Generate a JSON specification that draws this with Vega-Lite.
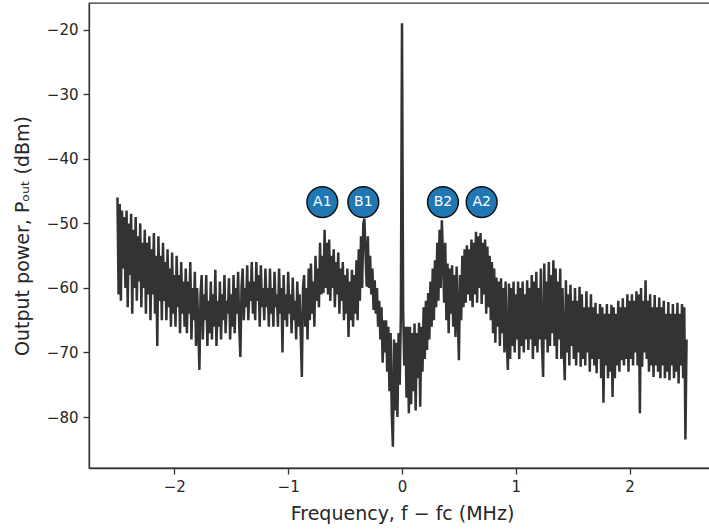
{
  "$schema": "https://vega.github.io/schema/vega-lite/v6.json",
  "autosize": "none",
  "padding": {"left": 89, "top": 3, "right": 0, "bottom": 61},
  "width": 626,
  "height": 465,
  "background": "white",
  "config": {
    "font": "DejaVu Sans",
    "view": {"stroke": "#333333", "strokeWidth": 1.3},
    "axis": {
      "grid": false,
      "domainColor": "#333333",
      "domainWidth": 1.3,
      "tickColor": "#333333",
      "tickWidth": 1.3,
      "tickSize": 6,
      "labelFont": "DejaVu Sans",
      "labelFontSize": 15,
      "labelColor": "#262626",
      "labelPadding": 5,
      "titleFont": "DejaVu Sans",
      "titleFontSize": 19,
      "titleFontWeight": "normal",
      "titleColor": "#262626"
    }
  },
  "datasets": {
    "spectrum": [
{"f":-2.50,"p":-46},{"f":-2.49,"p":-61},{"f":-2.48,"p":-47},{"f":-2.47,"p":-62},{"f":-2.46,"p":-48},{"f":-2.45,"p":-57},{"f":-2.44,"p":-49},{"f":-2.43,"p":-60},{"f":-2.42,"p":-48},{"f":-2.41,"p":-63},
{"f":-2.40,"p":-50},{"f":-2.39,"p":-58},{"f":-2.38,"p":-48.5},{"f":-2.37,"p":-64},{"f":-2.36,"p":-51},{"f":-2.35,"p":-60},{"f":-2.34,"p":-49},{"f":-2.33,"p":-62},{"f":-2.32,"p":-52},{"f":-2.31,"p":-59},
{"f":-2.30,"p":-50},{"f":-2.29,"p":-63},{"f":-2.28,"p":-53},{"f":-2.27,"p":-60},{"f":-2.26,"p":-51},{"f":-2.25,"p":-64},{"f":-2.24,"p":-53},{"f":-2.23,"p":-61},{"f":-2.22,"p":-52},{"f":-2.21,"p":-65},
{"f":-2.20,"p":-54},{"f":-2.19,"p":-61},{"f":-2.18,"p":-51.5},{"f":-2.17,"p":-64},{"f":-2.16,"p":-55},{"f":-2.15,"p":-69},{"f":-2.14,"p":-52},{"f":-2.13,"p":-62},{"f":-2.12,"p":-55},{"f":-2.11,"p":-65},
{"f":-2.10,"p":-53},{"f":-2.09,"p":-62},{"f":-2.08,"p":-56},{"f":-2.07,"p":-65},{"f":-2.06,"p":-54},{"f":-2.05,"p":-63},{"f":-2.04,"p":-57},{"f":-2.03,"p":-66},{"f":-2.02,"p":-54.5},{"f":-2.01,"p":-64},
{"f":-2.00,"p":-58},{"f":-1.99,"p":-66},{"f":-1.98,"p":-55},{"f":-1.97,"p":-63},{"f":-1.96,"p":-58},{"f":-1.95,"p":-67},{"f":-1.94,"p":-56},{"f":-1.93,"p":-64},{"f":-1.92,"p":-59},{"f":-1.91,"p":-66},
{"f":-1.90,"p":-57},{"f":-1.89,"p":-67},{"f":-1.88,"p":-59},{"f":-1.87,"p":-64},{"f":-1.86,"p":-56},{"f":-1.85,"p":-68},{"f":-1.84,"p":-60},{"f":-1.83,"p":-65},{"f":-1.82,"p":-57.5},{"f":-1.81,"p":-69},
{"f":-1.80,"p":-60},{"f":-1.79,"p":-66},{"f":-1.78,"p":-72.7},{"f":-1.77,"p":-61},{"f":-1.76,"p":-58},{"f":-1.75,"p":-68},{"f":-1.74,"p":-61},{"f":-1.73,"p":-65},{"f":-1.72,"p":-58},{"f":-1.71,"p":-69},
{"f":-1.70,"p":-62},{"f":-1.69,"p":-67},{"f":-1.68,"p":-59},{"f":-1.67,"p":-68},{"f":-1.66,"p":-61},{"f":-1.65,"p":-66},{"f":-1.64,"p":-57.2},{"f":-1.63,"p":-69},{"f":-1.62,"p":-62},{"f":-1.61,"p":-66},
{"f":-1.60,"p":-59},{"f":-1.59,"p":-68},{"f":-1.58,"p":-61},{"f":-1.57,"p":-65},{"f":-1.56,"p":-58},{"f":-1.55,"p":-67},{"f":-1.54,"p":-62},{"f":-1.53,"p":-64},{"f":-1.52,"p":-58.5},{"f":-1.51,"p":-68},
{"f":-1.50,"p":-61},{"f":-1.49,"p":-66},{"f":-1.48,"p":-58},{"f":-1.47,"p":-67},{"f":-1.46,"p":-60},{"f":-1.45,"p":-64},{"f":-1.44,"p":-57.5},{"f":-1.43,"p":-66},{"f":-1.42,"p":-70.7},{"f":-1.41,"p":-60},
{"f":-1.40,"p":-57},{"f":-1.39,"p":-65},{"f":-1.38,"p":-60},{"f":-1.37,"p":-63},{"f":-1.36,"p":-56.5},{"f":-1.35,"p":-65},{"f":-1.34,"p":-59},{"f":-1.33,"p":-62},{"f":-1.32,"p":-56},{"f":-1.31,"p":-64},
{"f":-1.30,"p":-59},{"f":-1.29,"p":-65},{"f":-1.28,"p":-56},{"f":-1.27,"p":-62},{"f":-1.26,"p":-58},{"f":-1.25,"p":-66},{"f":-1.24,"p":-56.5},{"f":-1.23,"p":-63},{"f":-1.22,"p":-60},{"f":-1.21,"p":-65},
{"f":-1.20,"p":-57},{"f":-1.19,"p":-63},{"f":-1.18,"p":-60},{"f":-1.17,"p":-66},{"f":-1.16,"p":-57},{"f":-1.15,"p":-64},{"f":-1.14,"p":-60},{"f":-1.13,"p":-66},{"f":-1.12,"p":-57.5},{"f":-1.11,"p":-63},
{"f":-1.10,"p":-61},{"f":-1.09,"p":-66},{"f":-1.08,"p":-57},{"f":-1.07,"p":-64},{"f":-1.06,"p":-60},{"f":-1.05,"p":-70},{"f":-1.04,"p":-58},{"f":-1.03,"p":-65},{"f":-1.02,"p":-61},{"f":-1.01,"p":-66},
{"f":-1.00,"p":-57.5},{"f":-0.99,"p":-64},{"f":-0.98,"p":-61},{"f":-0.97,"p":-67},{"f":-0.96,"p":-58.4},{"f":-0.95,"p":-65},{"f":-0.94,"p":-62},{"f":-0.93,"p":-68},{"f":-0.92,"p":-59},{"f":-0.91,"p":-66},
{"f":-0.90,"p":-61},{"f":-0.89,"p":-67},{"f":-0.88,"p":-73.8},{"f":-0.87,"p":-60},{"f":-0.86,"p":-58},{"f":-0.85,"p":-66},{"f":-0.84,"p":-60},{"f":-0.83,"p":-68},{"f":-0.82,"p":-57},{"f":-0.81,"p":-65},
{"f":-0.80,"p":-56.2},{"f":-0.79,"p":-64},{"f":-0.78,"p":-59},{"f":-0.77,"p":-66},{"f":-0.76,"p":-55},{"f":-0.75,"p":-62},{"f":-0.74,"p":-57},{"f":-0.73,"p":-63},{"f":-0.72,"p":-53},{"f":-0.71,"p":-61},
{"f":-0.70,"p":-55},{"f":-0.69,"p":-60.8},{"f":-0.68,"p":-51},{"f":-0.67,"p":-60},{"f":-0.66,"p":-53},{"f":-0.65,"p":-61},{"f":-0.64,"p":-52.5},{"f":-0.63,"p":-62},{"f":-0.62,"p":-55},{"f":-0.61,"p":-60},
{"f":-0.60,"p":-54},{"f":-0.59,"p":-63},{"f":-0.58,"p":-56},{"f":-0.57,"p":-61},{"f":-0.56,"p":-54.5},{"f":-0.55,"p":-64},{"f":-0.54,"p":-57},{"f":-0.53,"p":-62},{"f":-0.52,"p":-56},{"f":-0.51,"p":-65},
{"f":-0.50,"p":-58},{"f":-0.49,"p":-64},{"f":-0.48,"p":-57},{"f":-0.47,"p":-67.6},{"f":-0.46,"p":-59},{"f":-0.45,"p":-65},{"f":-0.44,"p":-57.2},{"f":-0.43,"p":-66},{"f":-0.42,"p":-58},{"f":-0.41,"p":-64},
{"f":-0.40,"p":-55.7},{"f":-0.39,"p":-65},{"f":-0.38,"p":-54},{"f":-0.37,"p":-62},{"f":-0.36,"p":-52},{"f":-0.35,"p":-60},{"f":-0.34,"p":-50},{"f":-0.33,"p":-49.3},{"f":-0.32,"p":-55},{"f":-0.31,"p":-59.8},
{"f":-0.30,"p":-52},{"f":-0.29,"p":-60},{"f":-0.28,"p":-55},{"f":-0.27,"p":-61},{"f":-0.26,"p":-57},{"f":-0.25,"p":-63.4},{"f":-0.24,"p":-58.8},{"f":-0.23,"p":-64},{"f":-0.22,"p":-60},{"f":-0.21,"p":-66},
{"f":-0.20,"p":-62},{"f":-0.19,"p":-68},{"f":-0.18,"p":-63},{"f":-0.17,"p":-71.6},{"f":-0.16,"p":-65},{"f":-0.15,"p":-70},{"f":-0.14,"p":-65},{"f":-0.13,"p":-73},{"f":-0.12,"p":-66},{"f":-0.11,"p":-76},
{"f":-0.10,"p":-67},{"f":-0.09,"p":-79.4},{"f":-0.08,"p":-84.6},{"f":-0.07,"p":-68},{"f":-0.06,"p":-79},{"f":-0.05,"p":-68.5},{"f":-0.04,"p":-80},{"f":-0.03,"p":-67},{"f":-0.02,"p":-75},{"f":-0.01,"p":-64},
{"f":0.00,"p":-19},{"f":0.01,"p":-63.4},{"f":0.02,"p":-72},{"f":0.03,"p":-66},{"f":0.04,"p":-77},{"f":0.05,"p":-66},{"f":0.06,"p":-79.4},{"f":0.07,"p":-66},{"f":0.08,"p":-78},{"f":0.09,"p":-67},
{"f":0.10,"p":-76},{"f":0.11,"p":-65.5},{"f":0.12,"p":-79},{"f":0.13,"p":-67},{"f":0.14,"p":-74},{"f":0.15,"p":-65.4},{"f":0.16,"p":-78.4},{"f":0.17,"p":-66},{"f":0.18,"p":-73},{"f":0.19,"p":-63},
{"f":0.20,"p":-71},{"f":0.21,"p":-62},{"f":0.22,"p":-69.6},{"f":0.23,"p":-60.8},{"f":0.24,"p":-68},{"f":0.25,"p":-59},{"f":0.26,"p":-66},{"f":0.27,"p":-57},{"f":0.28,"p":-65},{"f":0.29,"p":-55.7},
{"f":0.30,"p":-63},{"f":0.31,"p":-53},{"f":0.32,"p":-62},{"f":0.33,"p":-51},{"f":0.34,"p":-60},{"f":0.35,"p":-49.5},{"f":0.36,"p":-55},{"f":0.37,"p":-62.3},{"f":0.38,"p":-53},{"f":0.39,"p":-65},
{"f":0.40,"p":-56.2},{"f":0.41,"p":-67},{"f":0.42,"p":-57},{"f":0.43,"p":-64},{"f":0.44,"p":-56.5},{"f":0.45,"p":-66},{"f":0.46,"p":-58},{"f":0.47,"p":-67.6},{"f":0.48,"p":-56.7},{"f":0.49,"p":-64},
{"f":0.50,"p":-71.2},{"f":0.51,"p":-58},{"f":0.52,"p":-65},{"f":0.53,"p":-55},{"f":0.54,"p":-63},{"f":0.55,"p":-54},{"f":0.56,"p":-62.3},{"f":0.57,"p":-53.4},{"f":0.58,"p":-61},{"f":0.59,"p":-54},
{"f":0.60,"p":-62},{"f":0.61,"p":-52.5},{"f":0.62,"p":-63},{"f":0.63,"p":-53},{"f":0.64,"p":-61},{"f":0.65,"p":-51.3},{"f":0.66,"p":-62.3},{"f":0.67,"p":-52},{"f":0.68,"p":-60},{"f":0.69,"p":-51.5},
{"f":0.70,"p":-62.5},{"f":0.71,"p":-53},{"f":0.72,"p":-61},{"f":0.73,"p":-52.5},{"f":0.74,"p":-64},{"f":0.75,"p":-53.6},{"f":0.76,"p":-63},{"f":0.77,"p":-55},{"f":0.78,"p":-65},{"f":0.79,"p":-56},
{"f":0.80,"p":-67},{"f":0.81,"p":-57},{"f":0.82,"p":-68.5},{"f":0.83,"p":-58.4},{"f":0.84,"p":-66},{"f":0.85,"p":-59},{"f":0.86,"p":-69},{"f":0.87,"p":-58.5},{"f":0.88,"p":-67},{"f":0.89,"p":-60},
{"f":0.90,"p":-70},{"f":0.91,"p":-59},{"f":0.92,"p":-68},{"f":0.93,"p":-72.7},{"f":0.94,"p":-59.3},{"f":0.95,"p":-71},{"f":0.96,"p":-60},{"f":0.97,"p":-69},{"f":0.98,"p":-59},{"f":0.99,"p":-70},
{"f":1.00,"p":-61},{"f":1.01,"p":-68},{"f":1.02,"p":-59},{"f":1.03,"p":-71},{"f":1.04,"p":-60},{"f":1.05,"p":-69},{"f":1.06,"p":-59},{"f":1.07,"p":-70},{"f":1.08,"p":-61},{"f":1.09,"p":-68},
{"f":1.10,"p":-58.8},{"f":1.11,"p":-69.6},{"f":1.12,"p":-60},{"f":1.13,"p":-68},{"f":1.14,"p":-58},{"f":1.15,"p":-71},{"f":1.16,"p":-59},{"f":1.17,"p":-69},{"f":1.18,"p":-57.5},{"f":1.19,"p":-70},
{"f":1.20,"p":-60},{"f":1.21,"p":-68},{"f":1.22,"p":-57},{"f":1.23,"p":-69},{"f":1.24,"p":-73.8},{"f":1.25,"p":-56.2},{"f":1.26,"p":-68},{"f":1.27,"p":-59},{"f":1.28,"p":-70},{"f":1.29,"p":-56},
{"f":1.30,"p":-69},{"f":1.31,"p":-58},{"f":1.32,"p":-67},{"f":1.33,"p":-55.7},{"f":1.34,"p":-69},{"f":1.35,"p":-57},{"f":1.36,"p":-71},{"f":1.37,"p":-59},{"f":1.38,"p":-68},{"f":1.39,"p":-57},
{"f":1.40,"p":-71},{"f":1.41,"p":-60},{"f":1.42,"p":-69},{"f":1.43,"p":-74.3},{"f":1.44,"p":-58.8},{"f":1.45,"p":-70},{"f":1.46,"p":-61},{"f":1.47,"p":-72},{"f":1.48,"p":-59.5},{"f":1.49,"p":-69},
{"f":1.50,"p":-62},{"f":1.51,"p":-71},{"f":1.52,"p":-60},{"f":1.53,"p":-72},{"f":1.54,"p":-62},{"f":1.55,"p":-70},{"f":1.56,"p":-59.8},{"f":1.57,"p":-72.2},{"f":1.58,"p":-61},{"f":1.59,"p":-71},
{"f":1.60,"p":-63},{"f":1.61,"p":-72},{"f":1.62,"p":-60.5},{"f":1.63,"p":-70},{"f":1.64,"p":-63},{"f":1.65,"p":-73},{"f":1.66,"p":-61},{"f":1.67,"p":-71},{"f":1.68,"p":-63},{"f":1.69,"p":-72},
{"f":1.70,"p":-62.3},{"f":1.71,"p":-73.2},{"f":1.72,"p":-64},{"f":1.73,"p":-71},{"f":1.74,"p":-62.5},{"f":1.75,"p":-74},{"f":1.76,"p":-63},{"f":1.77,"p":-77.8},{"f":1.78,"p":-64},{"f":1.79,"p":-72},
{"f":1.80,"p":-62.5},{"f":1.81,"p":-74},{"f":1.82,"p":-64},{"f":1.83,"p":-73},{"f":1.84,"p":-62.6},{"f":1.85,"p":-76.9},{"f":1.86,"p":-63},{"f":1.87,"p":-74},{"f":1.88,"p":-64},{"f":1.89,"p":-72},
{"f":1.90,"p":-62},{"f":1.91,"p":-73},{"f":1.92,"p":-63},{"f":1.93,"p":-71.2},{"f":1.94,"p":-61.6},{"f":1.95,"p":-72},{"f":1.96,"p":-63},{"f":1.97,"p":-71},{"f":1.98,"p":-61},{"f":1.99,"p":-73},
{"f":2.00,"p":-62},{"f":2.01,"p":-71},{"f":2.02,"p":-61},{"f":2.03,"p":-72},{"f":2.04,"p":-62},{"f":2.05,"p":-70},{"f":2.06,"p":-60.5},{"f":2.07,"p":-72},{"f":2.08,"p":-61},{"f":2.09,"p":-79.4},
{"f":2.10,"p":-60},{"f":2.11,"p":-72.2},{"f":2.12,"p":-62},{"f":2.13,"p":-70},{"f":2.14,"p":-58.8},{"f":2.15,"p":-71},{"f":2.16,"p":-62},{"f":2.17,"p":-73},{"f":2.18,"p":-61},{"f":2.19,"p":-72},
{"f":2.20,"p":-63},{"f":2.21,"p":-73.8},{"f":2.22,"p":-61.1},{"f":2.23,"p":-72},{"f":2.24,"p":-63},{"f":2.25,"p":-73},{"f":2.26,"p":-61.5},{"f":2.27,"p":-74},{"f":2.28,"p":-63},{"f":2.29,"p":-72},
{"f":2.30,"p":-62},{"f":2.31,"p":-74},{"f":2.32,"p":-64},{"f":2.33,"p":-73},{"f":2.34,"p":-62.2},{"f":2.35,"p":-74.3},{"f":2.36,"p":-64},{"f":2.37,"p":-72},{"f":2.38,"p":-62.5},{"f":2.39,"p":-74},
{"f":2.40,"p":-64},{"f":2.41,"p":-73},{"f":2.42,"p":-62.3},{"f":2.43,"p":-74.8},{"f":2.44,"p":-64},{"f":2.45,"p":-72},{"f":2.46,"p":-62.5},{"f":2.47,"p":-74},{"f":2.48,"p":-63},{"f":2.49,"p":-83.5},
{"f":2.50,"p":-68}
    ],
    "markers": [
      {"label": "A1", "f": -0.70, "p": -46.7},
      {"label": "B1", "f": -0.34, "p": -46.7},
      {"label": "B2", "f": 0.36, "p": -46.7},
      {"label": "A2", "f": 0.70, "p": -46.7}
    ]
  },
  "layer": [
    {
      "data": {"name": "spectrum"},
      "mark": {"type": "line", "color": "#333333", "strokeWidth": 2.5, "clip": true},
      "encoding": {
        "x": {
          "field": "f", "type": "quantitative",
          "scale": {"domain": [-2.75, 2.75], "nice": false, "zero": false},
          "axis": {"values": [-2, -1, 0, 1, 2], "format": "d", "title": "Frequency, f − fc (MHz)", "titlePadding": 10}
        },
        "y": {
          "field": "p", "type": "quantitative",
          "scale": {"domain": [-87.9, -15.85], "nice": false, "zero": false},
          "axis": {"values": [-80, -70, -60, -50, -40, -30, -20], "format": "d", "title": "Output power, Pₒᵤₜ (dBm)", "titlePadding": 14}
        }
      }
    },
    {
      "data": {"name": "markers"},
      "mark": {"type": "point", "shape": "circle", "filled": true, "size": 950, "fill": "#1f77b4", "stroke": "#111111", "strokeWidth": 1.5, "opacity": 1},
      "encoding": {
        "x": {"field": "f", "type": "quantitative"},
        "y": {"field": "p", "type": "quantitative"}
      }
    },
    {
      "data": {"name": "markers"},
      "mark": {"type": "text", "color": "white", "fontSize": 14, "font": "DejaVu Sans", "align": "center", "baseline": "middle"},
      "encoding": {
        "x": {"field": "f", "type": "quantitative"},
        "y": {"field": "p", "type": "quantitative"},
        "text": {"field": "label"}
      }
    }
  ]
}
